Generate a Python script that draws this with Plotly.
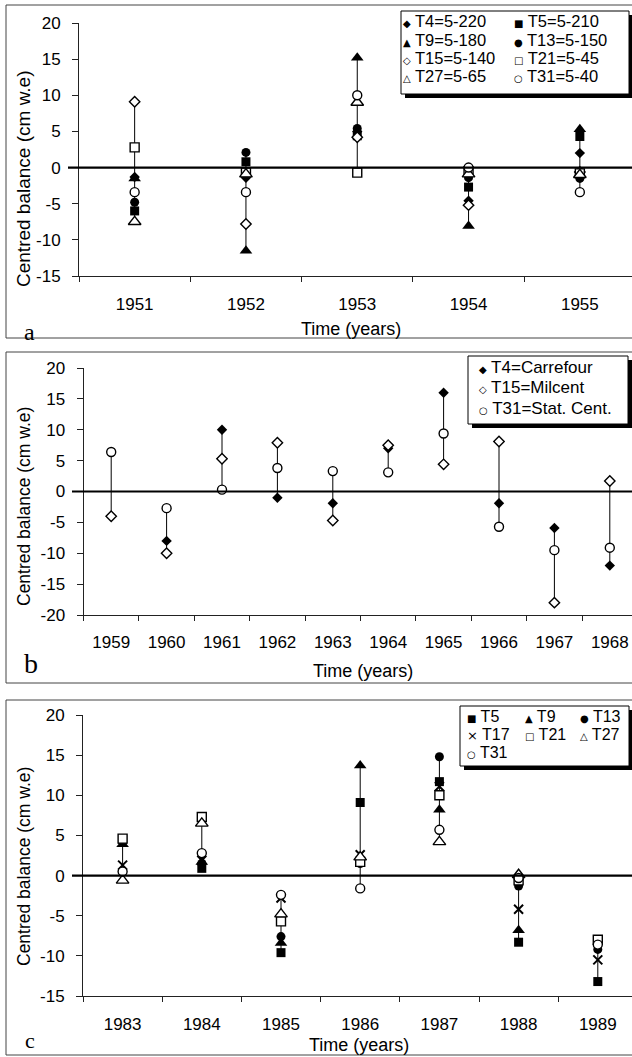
import plotly.graph_objects as go

W, H = 632, 1057

# ---------------- data ----------------
years_a = ["1951", "1952", "1953", "1954", "1955"]
a_T4 = [-1.3, -1.4, 5.0, -4.6, 2.0]
a_T5 = [-6.0, 0.8, 4.4, -2.7, 4.3]
a_T9 = [-1.5, -11.5, 15.2, -8.1, 5.3]
a_T13 = [-4.8, 2.1, 5.4, -1.4, -1.5]
a_T15 = [9.1, -7.8, 4.2, -5.2, -0.6]
a_T21 = [2.8, -0.7, -0.7, -0.5, -0.8]
a_T27 = [-7.5, -0.9, 9.0, -0.9, -1.0]
a_T31 = [-3.4, -3.4, 10.0, 0.0, -3.4]

years_b = ["1959", "1960", "1961", "1962", "1963", "1964", "1965", "1966", "1967", "1968"]
b_T4 = [None, -8.0, 10.0, -1.0, -1.9, 7.0, 16.0, -1.9, -5.9, -12.0]
b_T15 = [-4.0, -10.0, 5.3, 7.9, -4.7, 7.5, 4.4, 8.1, -18.0, 1.7]
b_T31 = [6.4, -2.7, 0.3, 3.8, 3.3, 3.1, 9.4, -5.7, -9.5, -9.1]

years_c = ["1983", "1984", "1985", "1986", "1987", "1988", "1989"]
c_T5 = [4.5, 0.9, -9.6, 9.1, 11.7, -8.3, -13.2]
c_T9 = [3.9, 1.7, -8.4, 13.7, 8.2, -6.8, None]
c_T13 = [4.2, 1.5, -7.6, 1.5, 14.8, -1.3, -9.2]
c_T17 = [1.3, 1.9, -2.8, 2.6, 11.1, -4.2, -10.5]
c_T21 = [4.6, 7.3, -5.7, 1.7, 10.0, -0.6, -8.0]
c_T27 = [-0.6, 6.5, -4.8, 2.3, 4.2, 0.1, None]
c_T31 = [0.5, 2.8, -2.4, -1.6, 5.7, -0.3, -8.6]

labels_a = ["T4=5-220", "T5=5-210", "T9=5-180", "T13=5-150",
            "T15=5-140", "T21=5-45", "T27=5-65", "T31=5-40"]
labels_b = ["T4=Carrefour", "T15=Milcent", "T31=Stat. Cent."]
labels_c = ["T5", "T9", "T13", "T17", "T21", "T27", "T31"]

yticks_ab = [-20, -15, -10, -5, 0, 5, 10, 15, 20]
yticktext_ab = ["-20", "-15", "-10", "-5", "0", "5", "10", "15", "20"]

# ---------------- styles ----------------
FONT = "Liberation Sans, Arial, sans-serif"
SYM = {
    "T4": ("diamond", True, 8, "◆"),
    "T5": ("square", True, 9, "■"),
    "T9": ("triangle-up", True, 11, "▲"),
    "T13": ("circle", True, 9, "●"),
    "T15": ("diamond", False, 8, "◇"),
    "T17": ("x-thin-open", True, 9, "×"),
    "T21": ("square", False, 9, "□"),
    "T27": ("triangle-up", False, 11, "△"),
    "T31": ("circle", False, 9, "○"),
}


def px(x):
    return x / W


def py(y):
    return 1 - y / H


fig = go.Figure()


def add_panel(years, series, names, xa, ya):
    # vertical range lines from min to max of each year
    xs, ys = [], []
    for i, yr in enumerate(years):
        vals = [s[i] for s in series if s[i] is not None]
        xs += [yr, yr, None]
        ys += [min(vals), max(vals), None]
    fig.add_trace(go.Scatter(x=xs, y=ys, mode="lines",
                             line=dict(color="black", width=1),
                             xaxis=xa, yaxis=ya, showlegend=False,
                             hoverinfo="skip"))
    for s, n in zip(series, names):
        key = n.split("=")[0]
        sym, filled, size, _ = SYM[key]
        if key == "T17":
            marker = dict(symbol=sym, size=size, color="black",
                          line=dict(color="black", width=2))
        elif filled:
            marker = dict(symbol=sym, size=size, color="black",
                          line=dict(width=0))
        else:
            marker = dict(symbol=sym, size=size, color="white",
                          line=dict(color="black", width=1.4))
        fig.add_trace(go.Scatter(x=years, y=s, mode="markers", name=n,
                                 marker=marker, xaxis=xa, yaxis=ya,
                                 showlegend=False))


add_panel(years_a, [a_T4, a_T5, a_T9, a_T13, a_T15, a_T21, a_T27, a_T31],
          labels_a, "x", "y")
add_panel(years_b, [b_T4, b_T15, b_T31], labels_b, "x2", "y2")
add_panel(years_c, [c_T5, c_T9, c_T13, c_T17, c_T21, c_T27, c_T31],
          labels_c, "x3", "y3")


def xaxis(years, x0, spacing, anchor, standoff):
    return dict(type="category", categoryorder="array", categoryarray=years,
                range=[-0.5, -0.5 + (W - x0) / spacing],
                domain=[px(x0), 1], anchor=anchor, tickson="boundaries",
                ticks="outside", ticklen=5, tickcolor="#222", tickwidth=1,
                showline=True, linecolor="#222", linewidth=1,
                showgrid=False, zeroline=False,
                tickfont=dict(size=17, color="black", family=FONT),
                ticklabelstandoff=standoff)


def yaxis(rng, ytop, ybot, anchor):
    return dict(range=rng, domain=[py(ybot), py(ytop)], anchor=anchor,
                tickmode="array", tickvals=yticks_ab, ticktext=yticktext_ab,
                ticks="outside", ticklen=6, tickcolor="#222", tickwidth=1,
                showline=True, linecolor="#222", linewidth=1,
                showgrid=False, zeroline=False,
                tickfont=dict(size=17, color="black", family=FONT),
                ticklabelstandoff=8)


shapes = []
annotations = []

# panel frames
for top, bot in [(5, 338), (352, 683), (700, 1055)]:
    shapes.append(dict(type="rect", xref="paper", yref="paper",
                       x0=px(6), x1=1.05, y0=py(bot), y1=py(top),
                       line=dict(color="#444", width=1), layer="below"))

# zero lines
for yref, x0 in [("y", 68), ("y2", 72), ("y3", 72)]:
    shapes.append(dict(type="line", xref="paper", yref=yref, x0=px(x0), x1=1,
                       y0=0, y1=0, line=dict(color="black", width=2.2),
                       layer="above"))


def legend_box(x0, y0, x1, y1):
    shapes.append(dict(type="rect", xref="paper", yref="paper",
                       x0=px(x0 + 4), x1=px(x1 + 4), y0=py(y1 + 4), y1=py(y0 + 4),
                       fillcolor="black", line=dict(width=0), layer="above"))
    shapes.append(dict(type="rect", xref="paper", yref="paper",
                       x0=px(x0), x1=px(x1), y0=py(y1), y1=py(y0),
                       fillcolor="white", line=dict(color="black", width=1),
                       layer="above"))


def legend_item(name, gx, y, fsize):
    key = name.split("=")[0]
    glyph = SYM[key][3]
    gsize = 13 if key == "T17" else 10
    txt = ("<span style='font-family:DejaVu Sans;font-size:%dpx'>%s</span> %s"
           % (gsize, glyph, name))
    annotations.append(dict(text=txt, x=px(gx), y=py(y), xref="paper",
                            yref="paper", xanchor="left", yanchor="middle",
                            showarrow=False, borderpad=0,
                            font=dict(family=FONT, size=fsize, color="black")))


# legend a (2 columns)
legend_box(401, 11, 629, 94)
rows_a = [21, 39.5, 58, 76.5]
for i, n in enumerate(labels_a):
    col, row = i % 2, i // 2
    gx = 402 if col == 0 else 513
    legend_item(n, gx, rows_a[row], 16.5)

# legend b
legend_box(468, 356, 628, 424)
rows_b = [367, 387.5, 408]
for i, n in enumerate(labels_b):
    legend_item(n, 478, rows_b[i], 17)

# legend c (3 columns)
legend_box(460, 706, 629, 766)
rows_c = [716, 734, 752]
cols_c = [466, 524, 579]
for i, n in enumerate(labels_c):
    col, row = i % 3, i // 3
    legend_item(n, cols_c[col], rows_c[row], 16)

# axis titles
for txt, x, y, size, ang in [
    ("Centred balance (cm w.e)", 24, 179, 19, -90),
    ("Centred balance (cm w.e)", 24, 507, 17.5, -90),
    ("Centred balance (cm w.e)", 24, 867, 17.5, -90),
    ("Time (years)", 351, 329, 18, 0),
    ("Time (years)", 363, 671, 18, 0),
    ("Time (years)", 359, 1045, 18, 0),
]:
    annotations.append(dict(text=txt, x=px(x), y=py(y), xref="paper",
                            yref="paper", xanchor="center", yanchor="middle",
                            textangle=ang, showarrow=False,
                            font=dict(family=FONT, size=size, color="black")))

# panel letters
for txt, x, y, size in [("a", 29, 332, 24), ("b", 31, 663, 28), ("c", 30, 1040, 22)]:
    annotations.append(dict(text=txt, x=px(x), y=py(y), xref="paper",
                            yref="paper", xanchor="center", yanchor="middle",
                            showarrow=False,
                            font=dict(family="Liberation Serif, Times New Roman, serif",
                                      size=size, color="black")))

fig.update_layout(
    width=W, height=H,
    margin=dict(l=0, r=0, t=0, b=0, autoexpand=False),
    paper_bgcolor="white", plot_bgcolor="white",
    font=dict(family=FONT, color="black"),
    showlegend=False,
    xaxis=xaxis(years_a, 79, 111.3, "y", 13),
    yaxis=yaxis([-15, 20], 23, 276, "x"),
    xaxis2=xaxis(years_b, 83.5, 55.4, "y2", 12),
    yaxis2=yaxis([-20, 20], 368, 615, "x2"),
    xaxis3=xaxis(years_c, 83, 79.2, "y3", 13),
    yaxis3=yaxis([-15, 20], 715, 996, "x3"),
    shapes=shapes,
    annotations=annotations,
)

fig.write_html("out.html")
